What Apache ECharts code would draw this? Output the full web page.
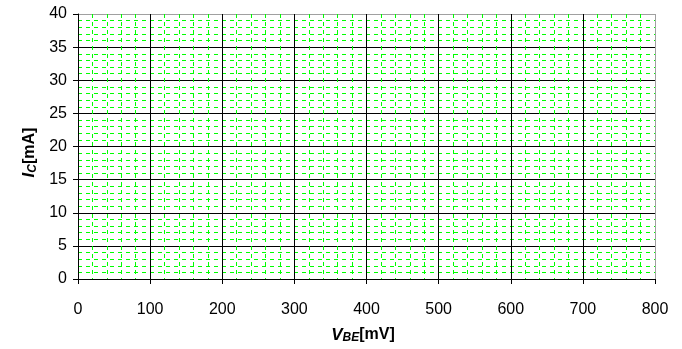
<!DOCTYPE html>
<html><head><meta charset="utf-8">
<script src="https://cdn.jsdelivr.net/npm/echarts@6/dist/echarts.min.js"></script>
<style>html,body{margin:0;padding:0;background:#fff}#c{width:682px;height:349px}</style>
</head><body><div id="c"></div>
<script>
var xMin = 0, xMax = 800, xStep = 100, xMinorSplit = 5;
var yMin = 0, yMax = 40, yStep = 5, yMinorSplit = 5;
var xTitle = ['V', 'BE', '[mV]'];
var yTitle = ['I', 'C', '[mA]'];
var seriesData = [];

var font = 'Liberation Sans, Arial, sans-serif';
function splitColors(min, max, step) {
  var n = Math.round((max - min) / step) + 1, arr = [];
  for (var i = 0; i < n; i++) arr.push(i === n - 1 ? '#a0a0a0' : '#000');
  return arr;
}
function titleRich() {
  return {
    i: {fontFamily: font, fontSize: 17, fontWeight: 'bold', fontStyle: 'italic', color: '#000'},
    s: {fontFamily: font, fontSize: 12, fontWeight: 'bold', fontStyle: 'italic', color: '#000', verticalAlign: 'bottom', padding: [6, 0, 0, 0]},
    b: {fontFamily: font, fontSize: 16, fontWeight: 'bold', color: '#000'}
  };
}
var chart = echarts.init(document.getElementById('c'), null, {renderer: 'canvas'});
chart.setOption({
  animation: false,
  backgroundColor: '#fff',
  grid: {left: 78, right: 27, top: 14, bottom: 69, show: false},
  xAxis: {
    type: 'value', min: xMin, max: xMax, interval: xStep,
    axisLine: {show: true, lineStyle: {color: '#000', width: 1}},
    axisTick: {show: true, length: 5, lineStyle: {color: '#000'}},
    axisLabel: {color: '#000', fontFamily: font, fontSize: 16, margin: 23},
    splitLine: {show: true, lineStyle: {color: splitColors(xMin, xMax, xStep), width: 1}},
    minorTick: {show: false, splitNumber: xMinorSplit},
    minorSplitLine: {show: true, lineStyle: {color: '#00ff00', width: 1, type: [4, 4]}},
    name: '{i|' + xTitle[0] + '}{s|' + xTitle[1] + '}{b|' + xTitle[2] + '}',
    nameLocation: 'middle', nameGap: 47,
    nameTextStyle: {padding: [0, 7, 0, 0], rich: titleRich()}
  },
  yAxis: {
    type: 'value', min: yMin, max: yMax, interval: yStep,
    axisLine: {show: true, lineStyle: {color: '#000', width: 1}},
    axisTick: {show: true, length: 5, lineStyle: {color: '#000'}},
    axisLabel: {color: '#000', fontFamily: font, fontSize: 16, margin: 11},
    splitLine: {show: true, lineStyle: {color: splitColors(yMin, yMax, yStep), width: 1}},
    minorTick: {show: false, splitNumber: yMinorSplit},
    minorSplitLine: {show: true, lineStyle: {color: '#00ff00', width: 1, type: [4, 4]}},
    name: '{i|' + yTitle[0] + '}{s|' + yTitle[1] + '}{b|' + yTitle[2] + '}',
    nameLocation: 'middle', nameGap: 38, nameRotate: 90,
    nameTextStyle: {padding: [0, 12, 0, 0], rich: titleRich()}
  },
  series: [{type: 'line', data: seriesData, silent: true}]
});
</script></body></html>
